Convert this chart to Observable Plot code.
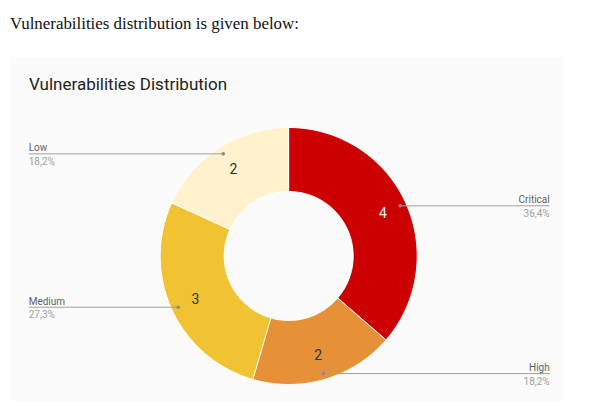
<!DOCTYPE html>
<html><head><meta charset="utf-8">
<script src="https://cdn.jsdelivr.net/npm/d3@7"></script>
<script src="https://cdn.jsdelivr.net/npm/@observablehq/plot@0.6"></script>
<style>
body{margin:0;background:#fff;width:595px;height:418px;overflow:hidden;position:relative;}
#bg{position:absolute;left:11px;top:57px;width:553px;height:344px;background:#fbfbfb;}
#head{position:absolute;left:10px;top:15px;font-family:"Liberation Serif";font-size:16.9px;line-height:1.107;color:#111;white-space:nowrap;}
#title{position:absolute;left:29px;top:75px;font-family:Roboto;font-size:17px;line-height:1.172;color:#222;white-space:nowrap;}
#chart{position:absolute;left:0;top:100px;}
</style></head><body>
<div id="bg"></div>
<div id="head">Vulnerabilities distribution is given below:</div>
<div id="title">Vulnerabilities Distribution</div>
<div id="chart"></div>
<script>
const categories = ["Critical", "High", "Medium", "Low"];
const counts = [4, 2, 3, 2];
const percentLabels = ["36,4%", "18,2%", "27,3%", "18,2%"];
const colors = ["#cc0000", "#e69138", "#f1c232", "#fff2cc"];
const numberColors = ["#f2f2f2", "#333333", "#333333", "#333333"];

const W = 595, H = 318;
const cx = 288.7, cy = 156;
const R = 128.5, r = 64.5, rLabel = 103, rDot = 122, edge = 260.5;

const total = d3.sum(counts);
let acc = 0;
const slices = categories.map((key, i) => {
  const a0 = acc / total * 2 * Math.PI;
  acc += counts[i];
  const a1 = acc / total * 2 * Math.PI;
  const am = (a0 + a1) / 2;
  const dx = rDot * Math.sin(am), dy = rDot * Math.cos(am);
  return {
    key, count: counts[i], pct: percentLabels[i], numColor: numberColors[i],
    a0, a1,
    lx: rLabel * Math.sin(am), ly: rLabel * Math.cos(am),
    dx, dy, side: dx < 0 ? "left" : "right",
    ex: dx < 0 ? -edge : edge
  };
});

const ring = [];
for (const s of slices) {
  const n = Math.max(2, Math.ceil((s.a1 - s.a0) / (Math.PI / 180)));
  for (let k = 0; k <= n; k++) {
    const t = s.a0 + (s.a1 - s.a0) * k / n;
    ring.push({key: s.key,
      ox: R * Math.sin(t), oy: R * Math.cos(t),
      ix: r * Math.sin(t), iy: r * Math.cos(t)});
  }
}

const left = slices.filter(d => d.side === "left");
const right = slices.filter(d => d.side === "right");

const plot = Plot.plot({
  width: W, height: H,
  margin: 0,
  x: {domain: [-cx, W - cx], axis: null},
  y: {domain: [-(H - cy), cy], axis: null},
  color: {domain: categories, range: colors},
  style: {fontFamily: "Roboto", background: "transparent", overflow: "visible"},
  marks: [
    Plot.area(ring, {x1: "ox", y1: "oy", x2: "ix", y2: "iy", z: "key", fill: "key", stroke: "white", strokeWidth: 1}),
    Plot.link(slices, {x1: "dx", y1: "dy", x2: "ex", y2: "dy", stroke: "#a0a0a0", strokeWidth: 1}),
    Plot.dot(slices, {x: "dx", y: "dy", r: 1.8, fill: "#8a8a8a"}),
    ...slices.map(s => Plot.text([s], {x: "lx", y: "ly", text: d => String(d.count), fill: s.numColor, fontSize: 14})),
    Plot.text(left, {x: "ex", y: "dy", text: "key", textAnchor: "start", lineAnchor: "bottom", dy: -2.5, fill: "#5f5f5f", fontSize: 10}),
    Plot.text(left, {x: "ex", y: "dy", text: "pct", textAnchor: "start", lineAnchor: "top", dy: 4, fill: "#a0a0a0", fontSize: 10}),
    Plot.text(right, {x: "ex", y: "dy", text: "key", textAnchor: "end", lineAnchor: "bottom", dy: -2.5, fill: "#5f5f5f", fontSize: 10}),
    Plot.text(right, {x: "ex", y: "dy", text: "pct", textAnchor: "end", lineAnchor: "top", dy: 4, fill: "#a0a0a0", fontSize: 10})
  ]
});
document.getElementById("chart").appendChild(plot);
</script>
</body></html>
